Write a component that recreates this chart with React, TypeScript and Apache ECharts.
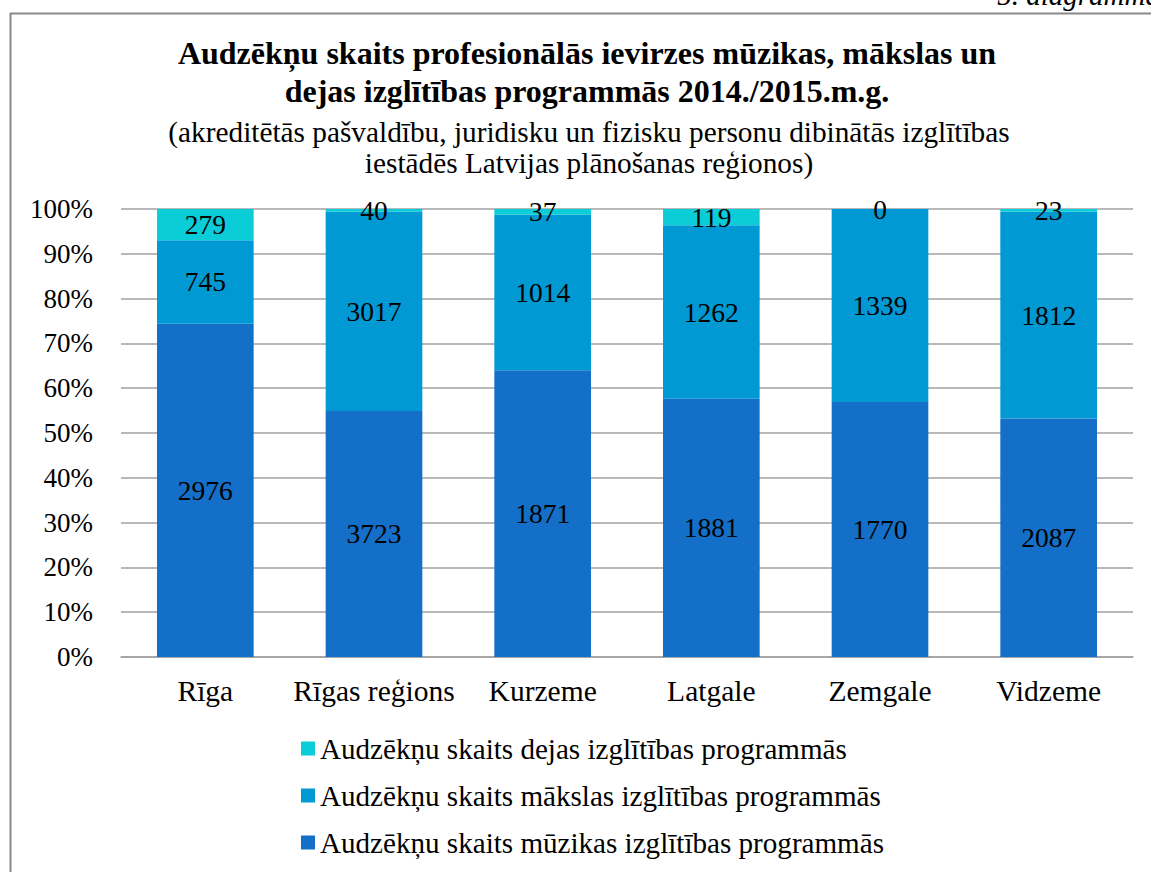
import React, { useEffect, useRef } from "react";
import * as echarts from "echarts";

const categories = ["Rīga", "Rīgas reģions", "Kurzeme", "Latgale", "Zemgale", "Vidzeme"];
const muzikas = [2976, 3723, 1871, 1881, 1770, 2087];
const makslas = [745, 3017, 1014, 1262, 1339, 1812];
const dejas = [279, 40, 37, 119, 0, 23];

const seriesNames = [
  "Audzēkņu skaits mūzikas izglītības programmās",
  "Audzēkņu skaits mākslas izglītības programmās",
  "Audzēkņu skaits dejas izglītības programmās",
];
const colors = ["#136FC7", "#0099D4", "#0BCDD8"];

const FONT = '"Liberation Serif", "Times New Roman", serif';

export default function App() {
  const ref = useRef<HTMLDivElement>(null);
  useEffect(() => {
    if (!ref.current) return;
    const chart = echarts.init(ref.current, undefined, { renderer: "svg" });
    const raw = [muzikas, makslas, dejas];
    const totals = categories.map((_, i) => muzikas[i] + makslas[i] + dejas[i]);
    const series = raw.map((arr, s) => ({
      name: seriesNames[s],
      type: "bar",
      stack: "total",
      barWidth: "57.3%",
      itemStyle: { color: colors[s] },
      data: arr.map((v, i) => (v / totals[i]) * 100),
      label: {
        show: true,
        position: "inside",
        color: "#000",
        fontSize: 27.5,
        fontFamily: FONT,
        formatter: (p: any) => String(arr[p.dataIndex]),
      },
    }));
    chart.setOption({
      animation: false,
      textStyle: { fontFamily: FONT },
      title: [
        {
          text: "Audzēkņu skaits profesionālās ievirzes mūzikas, mākslas un\ndejas izglītības programmās 2014./2015.m.g.",
          left: 587,
          top: 34,
          textAlign: "center",
          padding: 0,
          textStyle: { fontSize: 32, fontWeight: "bold", fontFamily: FONT, color: "#000", lineHeight: 38 },
        },
        {
          text: "(akreditētās pašvaldību, juridisku un fizisku personu dibinātās izglītības\niestādēs Latvijas plānošanas reģionos)",
          left: 589,
          top: 116,
          textAlign: "center",
          padding: 0,
          textStyle: { fontSize: 29.3, fontWeight: "normal", fontFamily: FONT, color: "#000", lineHeight: 31 },
        },
      ],
      graphic: [
        { type: "line", shape: { x1: 10, y1: 13.5, x2: 1151, y2: 13.5 }, style: { stroke: "#8A8A8A", lineWidth: 2 } },
        { type: "line", shape: { x1: 10.5, y1: 13, x2: 10.5, y2: 872 }, style: { stroke: "#8A8A8A", lineWidth: 2 } },
        {
          type: "text",
          x: 1160,
          y: 9,
          style: {
            text: "5. diagramma",
            font: 'italic 29px "Liberation Serif", "Times New Roman", serif',
            fill: "#000",
            textAlign: "right",
            textVerticalAlign: "bottom",
          },
        },
      ],
      legend: {
        orient: "vertical",
        left: 296,
        top: 729,
        itemWidth: 14,
        itemHeight: 14,
        itemGap: 18,
        icon: "rect",
        data: [seriesNames[2], seriesNames[1], seriesNames[0]],
        textStyle: { fontSize: 29.1, fontFamily: FONT, color: "#000" },
      },
      grid: { left: 121, right: 18, top: 209, bottom: 215, containLabel: false },
      xAxis: {
        type: "category",
        data: categories,
        axisTick: { show: false },
        axisLine: { lineStyle: { color: "#A0A0A0", width: 1.5 } },
        axisLabel: { fontSize: 29.5, fontFamily: FONT, color: "#000", margin: 19, interval: 0 },
      },
      yAxis: {
        type: "value",
        min: 0,
        max: 100,
        interval: 10,
        axisLine: { show: false },
        axisTick: { show: false },
        splitLine: { lineStyle: { color: "#A0A0A0", width: 1.5 } },
        axisLabel: { fontSize: 27, fontFamily: FONT, color: "#000", margin: 28, formatter: "{value}%" },
      },
      series,
    });
    return () => chart.dispose();
  }, []);
  return (
    <div
      ref={ref}
      style={{ position: "fixed", left: 0, top: 0, width: 1151, height: 872, background: "#fff" }}
    />
  );
}
